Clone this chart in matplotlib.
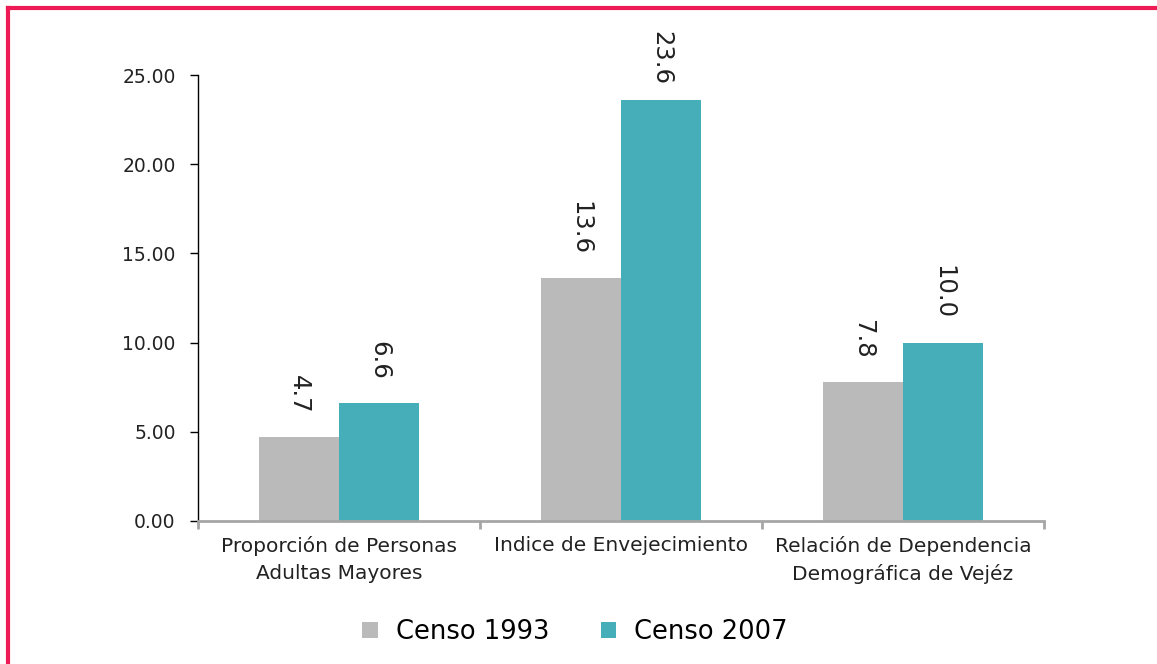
import matplotlib.pyplot as plt
import numpy as np
from matplotlib.lines import Line2D

categorias = ['Proporción de Personas\nAdultas Mayores',
              'Indice de Envejecimiento',
              'Relación de Dependencia\nDemográfica de Vejéz']
censo_1993 = [4.7, 13.6, 7.8]
censo_2007 = [6.6, 23.6, 10.0]

gris = '#BABABA'
turquesa = '#45AEB8'
rosa = '#EE1A55'

plt.rcParams['font.family'] = 'DejaVu Sans'

fig = plt.figure(figsize=(11.57, 6.64), dpi=100)
ax = fig.add_axes([0.1711, 0.2154, 0.7312, 0.6716])

x = np.arange(len(categorias))
w = 0.285
b1 = ax.bar(x - w / 2, censo_1993, w, color=gris, label='Censo 1993')
b2 = ax.bar(x + w / 2, censo_2007, w, color=turquesa, label='Censo 2007')

# etiquetas de valor rotadas (la mas alta queda mas pegada, como en excel)
for bars in (b1, b2):
    for rect in bars:
        v = rect.get_height()
        off = 11 if v > 20 else 17
        ax.annotate('%.1f' % v, (rect.get_x() + rect.get_width() / 2, v),
                    xytext=(0, off), textcoords='offset points',
                    ha='center', va='bottom', rotation=270,
                    fontsize=17.5, color='#222222', annotation_clip=False)

ax.set_xlim(-0.5, 2.5)
ax.set_ylim(0, 25)
ax.set_yticks(np.arange(0, 26, 5))
ax.set_yticklabels(['%.2f' % t for t in np.arange(0, 26, 5)], fontsize=13.5, color='#222222')

ax.set_xticks(x)
ax.set_xticklabels(categorias, fontsize=14.5, color='#222222', linespacing=1.5)
ax.tick_params(axis='x', which='major', length=0, pad=11)
ax.set_xticks([-0.5, 0.5, 1.5, 2.5], minor=True)
ax.tick_params(axis='x', which='minor', length=6, width=2, color='#A6A6A6')
ax.tick_params(axis='y', length=6, width=1, color='black', pad=10)

for s in ['top', 'right']:
    ax.spines[s].set_visible(False)
ax.spines['left'].set_color('black')
ax.spines['left'].set_linewidth(1)
ax.spines['bottom'].set_color('#A6A6A6')
ax.spines['bottom'].set_linewidth(2)

fig.legend(loc='center', bbox_to_anchor=(0.497, 0.048), ncol=2, frameon=False,
           fontsize=18.5, handlelength=0.6, handleheight=0.6, columnspacing=2.0,
           handletextpad=0.7)

# marco rosa
fig.add_artist(Line2D([0.0069, 1.0], [0.9887, 0.9887], color=rosa, lw=3,
                      transform=fig.transFigure))
fig.add_artist(Line2D([0.0069, 0.0069], [0.0, 0.9887], color=rosa, lw=3,
                      transform=fig.transFigure))

fig.savefig('out.png', dpi=100)
